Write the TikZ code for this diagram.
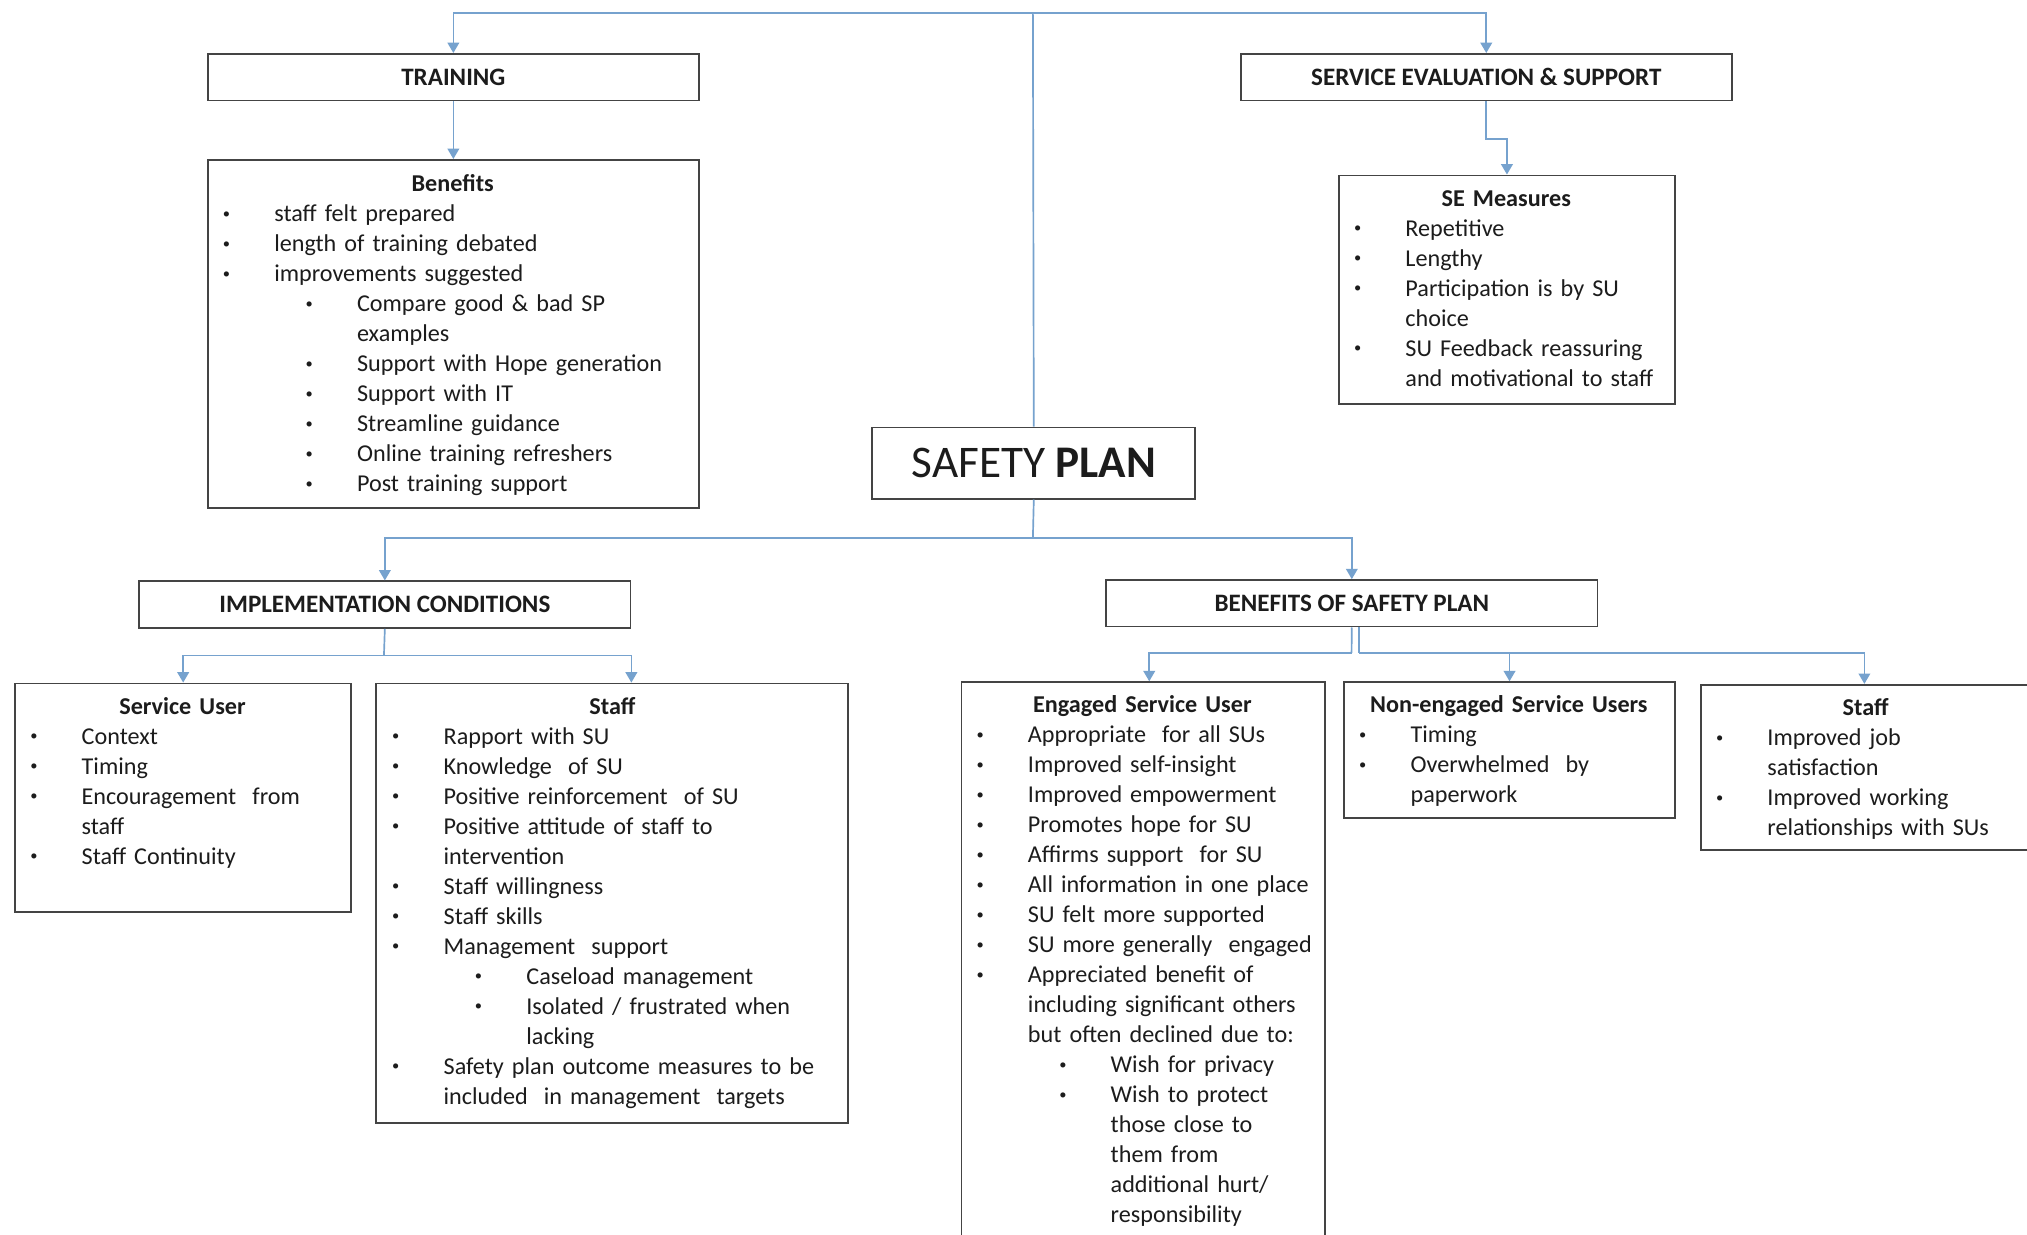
\documentclass[tikz,border=0pt]{standalone}
\usepackage{fontspec}
\usepackage{graphicx}
\setmainfont{Carlito}
\usetikzlibrary{arrows.meta,calc}
\setlength{\parindent}{0pt}
\definecolor{connc}{RGB}{118,162,206}
\definecolor{boxc}{RGB}{68,68,68}
\definecolor{txtc}{RGB}{28,28,28}
\newcommand{\bul}{\makebox[0pt]{\raisebox{2.6pt}{\scalebox{0.6}{\textbullet}}}}
\newcommand{\ttl}[1]{\mbox{\strut\makebox[\hsize][c]{\bfseries #1}}\par}
\newcommand{\itm}[1]{\mbox{\strut\hspace*{15pt}\bul\hspace*{37pt}#1}\par}
\newcommand{\cnt}[1]{\mbox{\strut\hspace*{52pt}#1}\par}
\newcommand{\sitm}[1]{\mbox{\strut\hspace*{79pt}\bul\hspace*{37pt}#1}\par}
\newcommand{\scnt}[1]{\mbox{\strut\hspace*{116pt}#1}\par}
\tikzset{
  boxnode/.style={draw=boxc, line width=1.4pt, anchor=north west, inner sep=0pt, rectangle, text=txtc},
  hdr/.style={boxnode, font=\fontsize{19.4}{23.2}\selectfont\bfseries},
  bodytext/.style={anchor=north west, inner sep=0pt, text width=#1, align=left, text=txtc,
    font=\fontsize{18.7}{23.2}\selectfont},
  conn/.style={draw=connc, line width=1.3pt},
  arr/.style={conn, -{Triangle[width=9pt,length=8pt]}},
}
\begin{document}
\begin{tikzpicture}[x=1pt,y=-1pt]
\clip (0,0) rectangle (1568,955);
\fill[white] (0,0) rectangle (1568,955);

% header boxes
\node[hdr, minimum width=380pt, minimum height=36pt] (training) at (160,41) {TRAINING};
\node[hdr, minimum width=380pt, minimum height=36pt] (seval) at (959,41) {SERVICE EVALUATION \& SUPPORT};
\node[boxnode, minimum width=250pt, minimum height=55pt, font=\fontsize{35}{40}\selectfont] (sp) at (674,330) {SAFETY \textbf{PLAN}};
\node[hdr, minimum width=380pt, minimum height=36pt] (impl) at (107,449) {IMPLEMENTATION CONDITIONS};
\node[hdr, minimum width=380pt, minimum height=36pt] (bensp) at (855,448) {BENEFITS OF SAFETY PLAN};

% content boxes
\node[boxnode, minimum width=380pt, minimum height=269pt] (benefits) at (160,123) {};
\node[boxnode, minimum width=260pt, minimum height=177pt] (semeas) at (1035,135) {};
\node[boxnode, minimum width=260pt, minimum height=177pt] (su) at (11,528) {};
\node[boxnode, minimum width=365pt, minimum height=340pt] (staffi) at (290,528) {};
\node[boxnode, minimum width=281pt, minimum height=460pt] (engaged) at (743,527) {};
\node[boxnode, minimum width=256pt, minimum height=105pt] (noneng) at (1039,527) {};
\node[boxnode, minimum width=253pt, minimum height=128pt] (staffb) at (1315,529) {};

% texts
\node[bodytext=380pt] (benefitsT) at ($(benefits.north west)+(0,9)$) {%
\ttl{Benefits}
\itm{staff felt prepared}
\itm{length of training debated}
\itm{improvements suggested}
\sitm{Compare good \& bad SP}
\scnt{examples}
\sitm{Support with Hope generation}
\sitm{Support with IT}
\sitm{Streamline guidance}
\sitm{Online training refreshers}
\sitm{Post training support}};

\node[bodytext=260pt] (semeasT) at ($(semeas.north west)+(0,8)$) {%
\ttl{SE Measures}
\itm{Repetitive}
\itm{Lengthy}
\itm{Participation is by SU}
\cnt{choice}
\itm{SU Feedback reassuring}
\cnt{and motivational to staff}};

\node[bodytext=260pt] (suT) at ($(su.north west)+(0,8)$) {%
\ttl{Service User}
\itm{Context}
\itm{Timing}
\itm{Encouragement\ \ from}
\cnt{staff}
\itm{Staff Continuity}};

\node[bodytext=365pt] (staffiT) at ($(staffi.north west)+(1,8)$) {%
\ttl{Staff}
\itm{Rapport with SU}
\itm{Knowledge\ \ of SU}
\itm{Positive reinforcement\ \ of SU}
\itm{Positive attitude of staff to}
\cnt{intervention}
\itm{Staff willingness}
\itm{Staff skills}
\itm{Management\ \ support}
\sitm{Caseload management}
\sitm{Isolated / frustrated when}
\scnt{lacking}
\itm{Safety plan outcome measures to be}
\cnt{included\ \ in management\ \ targets}};

\node[bodytext=281pt] (engagedT) at ($(engaged.north west)+(0,8)$) {%
\ttl{Engaged Service User}
\itm{Appropriate\ \ for all SUs}
\itm{Improved self-insight}
\itm{Improved empowerment}
\itm{Promotes hope for SU}
\itm{Affirms support\ \ for SU}
\itm{All information in one place}
\itm{SU felt more supported}
\itm{SU more generally\ \ engaged}
\itm{Appreciated benefit of}
\cnt{including significant others}
\cnt{but often declined due to:}
\sitm{Wish for privacy}
\sitm{Wish to protect}
\scnt{those close to}
\scnt{them from}
\scnt{additional hurt/}
\scnt{responsibility}};

\node[bodytext=256pt] (nonengT) at ($(noneng.north west)+(0,8)$) {%
\ttl{Non-engaged Service Users}
\itm{Timing}
\itm{Overwhelmed\ \ by}
\cnt{paperwork}};

\node[bodytext=256pt] (staffbT) at ($(staffb.north west)+(0,8)$) {%
\ttl{Staff}
\itm{Improved job}
\cnt{satisfaction}
\itm{Improved working}
\cnt{relationships with SUs}};

% connectors
\coordinate (top) at (799,10);
\draw[conn] (sp.north) -- (top);
\draw[arr] (top) -| (training.north);
\draw[arr] (top) -| (seval.north);
\draw[arr] (training.south) -- (benefits.north);
\draw[arr] (seval.south) -- ++(0,29) -| (semeas.north);

\coordinate (spb) at (799,416);
\draw[conn] (sp.south) -- (spb);
\draw[arr] (spb) -| (impl.north);
\draw[arr] (spb) -| (bensp.north);

\coordinate (implb) at (297,507);
\draw[conn] (impl.south) -- (implb);
\draw[arr] (implb) -| (su.north);
\draw[arr] (implb) -| (impl.east |- staffi.north);

\coordinate (bl) at (1045.5,505);
\coordinate (br) at (1051.5,505);
\draw[conn] (bensp.south) -- (bl);
\draw[conn] (bensp.south -| br) -- (br);
\draw[arr] (bl) -| ($(engaged.north west)+(146,0)$);
\draw[arr] (br) -| (noneng.north);
\draw[arr] (br) -| (staffb.north);
\end{tikzpicture}
\end{document}
